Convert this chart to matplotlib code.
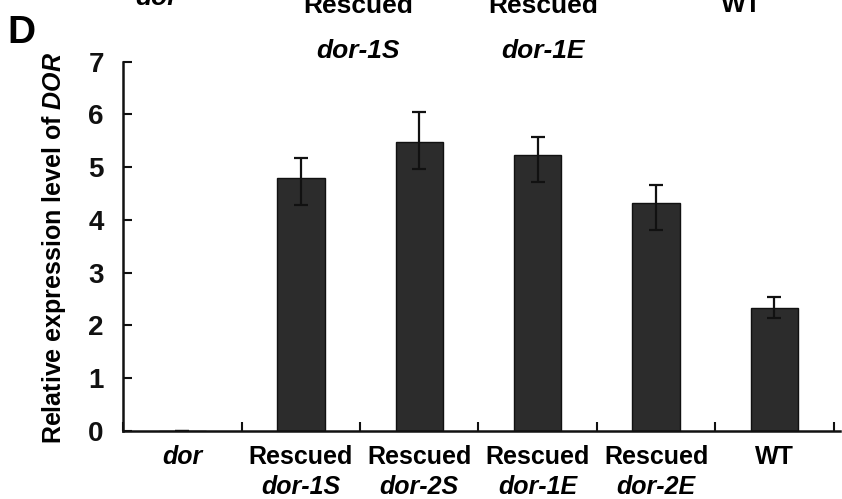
import matplotlib
matplotlib.use("Agg")
import matplotlib.pyplot as plt
import numpy as np

plt.rcParams["font.family"] = ["Liberation Sans", "DejaVu Sans"]
plt.rcParams["mathtext.fontset"] = "custom"
plt.rcParams["mathtext.it"] = "Liberation Sans:italic:bold"
plt.rcParams["mathtext.rm"] = "Liberation Sans:bold"

# Relative DOR expression per strain
line1 = ["dor", "Rescued", "Rescued", "Rescued", "Rescued", "WT"]
line2 = ["", "dor-1S", "dor-2S", "dor-1E", "dor-2E", ""]
line1_italic = [True, False, False, False, False, False]
values = [0.0, 4.80, 5.47, 5.23, 4.32, 2.33]
err_low = [0.0, 0.52, 0.51, 0.51, 0.51, 0.20]
err_high = [0.0, 0.37, 0.57, 0.34, 0.34, 0.20]
yticks = [0, 1, 2, 3, 4, 5, 6, 7]

# Labels of the panel above, partly cut by the top edge
top_line1 = ["dor", "Rescued", "Rescued", "WT"]
top_line2 = ["", "dor-1S", "dor-1E", ""]
top_italic = [True, False, False, False]

W, H = 842, 499
fig = plt.figure(figsize=(W / 100, H / 100), dpi=100)
ax = fig.add_axes([123.3 / W, 1 - 430.7 / H, 716.3 / W, (430.7 - 61.7) / H])

x = np.arange(len(values))
ax.bar(x, values, width=0.4, color="#2c2c2c", edgecolor="#111111",
       linewidth=1.0, zorder=2)
ax.errorbar(x, values, yerr=[err_low, err_high], fmt="none",
            ecolor="#111111", elinewidth=1.6, capsize=5, capthick=1.6,
            zorder=3)

ax.set_xlim(-0.5, 5.55)
ax.set_ylim(0, 7)
ax.set_yticks(yticks)
ax.set_xticks(np.arange(len(values) + 1) - 0.5)
ax.set_xticklabels([])
ax.tick_params(axis="both", direction="in", length=6.5, width=1.5,
               colors="#111111")
ax.tick_params(axis="y", pad=14, labelsize=20)
for lab in ax.get_yticklabels():
    lab.set_fontweight("bold")

for side in ("top", "right"):
    ax.spines[side].set_visible(False)
for side in ("left", "bottom"):
    ax.spines[side].set_linewidth(1.8)
    ax.spines[side].set_color("#111111")
    ax.spines[side].set_zorder(4)

ax.set_ylabel(r"Relative expression level of $\mathit{DOR}$", fontsize=18,
              fontweight="bold")
ax.yaxis.set_label_coords(-0.077, 0.496)

# two-line category labels under the axis
trans = ax.get_xaxis_transform()
for i in range(len(values)):
    ax.text(x[i], -0.09, line1[i], transform=trans, ha="center",
            va="baseline", fontsize=18, fontweight="bold",
            fontstyle="italic" if line1_italic[i] else "normal")
    if line2[i]:
        ax.text(x[i], -0.171, line2[i], transform=trans, ha="center",
                va="baseline", fontsize=18, fontweight="bold",
                fontstyle="italic")

# panel letter
fig.text(7 / W, 1 - 43 / H, "D", fontsize=28, fontweight="bold",
         va="baseline", ha="left")

# labels of the panel above (clipped by the figure edge)
top_x = [157, 358, 543, 741]
top_base1 = [5, 13, 13, 12]
for i in range(len(top_line1)):
    fig.text(top_x[i] / W, 1 - top_base1[i] / H, top_line1[i], fontsize=19,
             fontweight="bold", ha="center", va="baseline",
             fontstyle="italic" if top_italic[i] else "normal")
    if top_line2[i]:
        fig.text(top_x[i] / W, 1 - 58 / H, top_line2[i], fontsize=19,
                 fontweight="bold", ha="center", va="baseline",
                 fontstyle="italic")

fig.savefig("out.png", dpi=100)
